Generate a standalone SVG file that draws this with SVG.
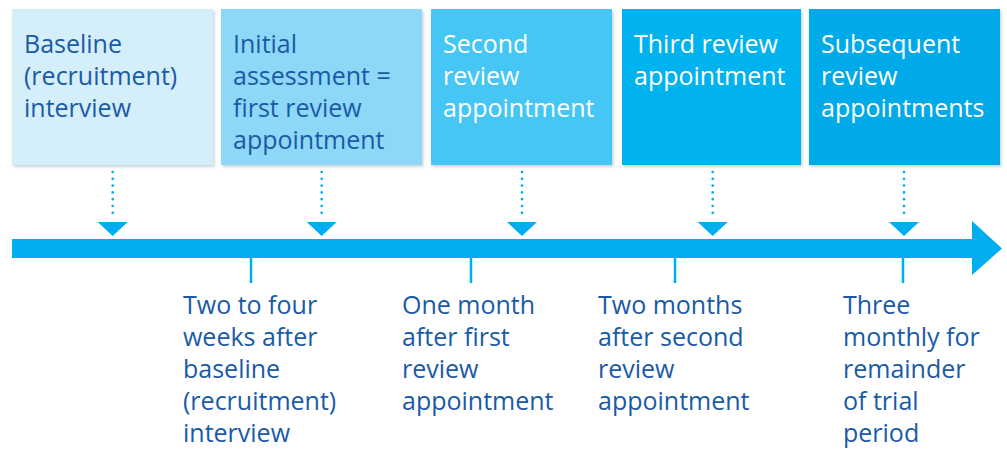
<svg xmlns="http://www.w3.org/2000/svg" width="1007" height="450" viewBox="0 0 1007 450">
<style>
text{font-family:"Open Sans","Noto Sans","Liberation Sans",sans-serif;font-size:25px}
.dk{fill:#1a5aa6}
.wt{fill:#ffffff}
.dot{stroke:#00aeef;stroke-width:2.7;stroke-linecap:round;stroke-dasharray:0 6.8;fill:none}
.tick{stroke:#00aeef;stroke-width:2.5}
.tri{fill:#00aeef}
</style>
<defs>
<filter id="sh" x="-5%" y="-5%" width="115%" height="115%">
<feDropShadow dx="1.5" dy="2" stdDeviation="1.6" flood-color="#6a7f95" flood-opacity="0.35"/>
</filter>
</defs>
<rect width="1007" height="450" fill="#ffffff"/>
<g id="box1"><rect x="12" y="9" width="201" height="156" fill="#d4eefa" filter="url(#sh)"/>
<text class="dk"><tspan x="24" y="53">Baseline</tspan><tspan x="24" y="85">(recruitment)</tspan><tspan x="24" y="117">interview</tspan></text></g>
<g id="box2"><rect x="221" y="9" width="201" height="156" fill="#8dd8f6" filter="url(#sh)"/>
<text class="dk"><tspan x="233" y="53">Initial</tspan><tspan x="233" y="85">assessment =</tspan><tspan x="233" y="117">first review</tspan><tspan x="233" y="149">appointment</tspan></text></g>
<g id="box3"><rect x="431" y="9" width="181" height="156" fill="#45c6f5" filter="url(#sh)"/>
<text class="wt"><tspan x="443" y="53">Second</tspan><tspan x="443" y="85">review</tspan><tspan x="443" y="117">appointment</tspan></text></g>
<g id="box4"><rect x="622" y="9" width="179" height="156" fill="#00b3ee" filter="url(#sh)"/>
<text class="wt"><tspan x="634" y="53">Third review</tspan><tspan x="634" y="85">appointment</tspan></text></g>
<g id="box5"><rect x="809" y="9" width="191" height="156" fill="#00aae9" filter="url(#sh)"/>
<text class="wt"><tspan x="821" y="53">Subsequent</tspan><tspan x="821" y="85">review</tspan><tspan x="821" y="117">appointments</tspan></text></g>
<g id="timeline">
<rect x="12" y="239" width="962" height="19" fill="#00aeef"/>
<polygon points="972,221 1002,248.5 972,275" fill="#00aeef"/>
</g>
<g id="connectors">
<line class="dot" x1="112.7" y1="172" x2="112.7" y2="214"/>
<line class="dot" x1="321.7" y1="172" x2="321.7" y2="214"/>
<line class="dot" x1="522" y1="172" x2="522" y2="214"/>
<line class="dot" x1="712.7" y1="172" x2="712.7" y2="214"/>
<line class="dot" x1="904" y1="172" x2="904" y2="214"/>
<polygon class="tri" points="97.7,222 127.7,222 112.7,236"/>
<polygon class="tri" points="306.7,222 336.7,222 321.7,236"/>
<polygon class="tri" points="507,222 537,222 522,236"/>
<polygon class="tri" points="697.7,222 727.7,222 712.7,236"/>
<polygon class="tri" points="889,222 919,222 904,236"/>
<line class="tick" x1="251" y1="257" x2="251" y2="283"/>
<line class="tick" x1="471" y1="257" x2="471" y2="283"/>
<line class="tick" x1="675" y1="257" x2="675" y2="283"/>
<line class="tick" x1="903" y1="257" x2="903" y2="283"/>
</g>
<g id="label1"><text class="dk"><tspan x="183" y="314">Two to four</tspan><tspan x="183" y="346">weeks after</tspan><tspan x="183" y="378">baseline</tspan><tspan x="183" y="410">(recruitment)</tspan><tspan x="183" y="442">interview</tspan></text></g>
<g id="label2"><text class="dk"><tspan x="402" y="314">One month</tspan><tspan x="402" y="346">after first</tspan><tspan x="402" y="378">review</tspan><tspan x="402" y="410">appointment</tspan></text></g>
<g id="label3"><text class="dk"><tspan x="598" y="314">Two months</tspan><tspan x="598" y="346">after second</tspan><tspan x="598" y="378">review</tspan><tspan x="598" y="410">appointment</tspan></text></g>
<g id="label4"><text class="dk"><tspan x="843" y="314">Three</tspan><tspan x="843" y="346">monthly for</tspan><tspan x="843" y="378">remainder</tspan><tspan x="843" y="410">of trial</tspan><tspan x="843" y="442">period</tspan></text></g>
</svg>
